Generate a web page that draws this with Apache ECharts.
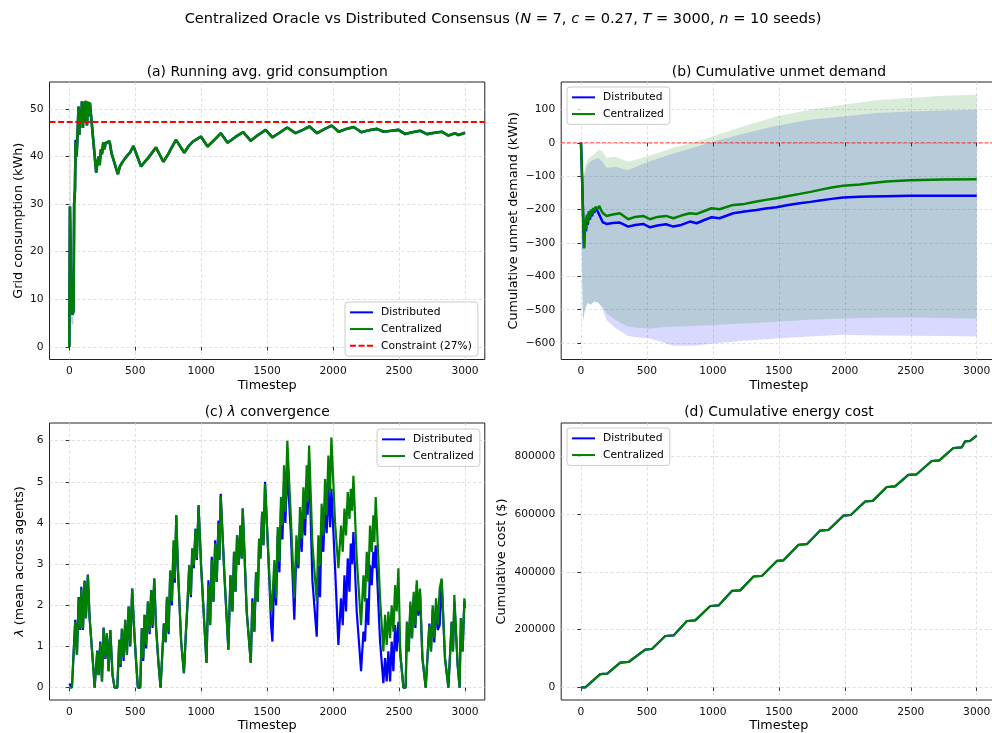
<!DOCTYPE html>
<html><head><meta charset="utf-8">
<script src="https://cdn.jsdelivr.net/npm/echarts@6/dist/echarts.min.js"></script>
<style>html,body{margin:0;padding:0;background:#fff}#c{width:992px;height:733px}</style>
</head><body><div id="c"></div>
<script>
// ---------- tick values ----------
const xTicks = [0, 500, 1000, 1500, 2000, 2500, 3000];
const aYTicks = [0, 10, 20, 30, 40, 50];
const bYTicks = [-600, -500, -400, -300, -200, -100, 0, 100];
const cYTicks = [0, 1, 2, 3, 4, 5, 6];
const dYTicks = [0, 200000, 400000, 600000, 800000];

// ---------- (a) running avg grid consumption ----------
const aT = [0,5,10,15,25,32,37,43,48,55,62,70,76,82,90,96,103,110,118,126,134,142,150,156,204,212,224,230,240,248,258,266,275,290,305,320,368,385,405,420,443,460,486,544,570,595,620,657,713,746,775,809,872,900,935,970,998,1048,1100,1149,1200,1260,1318,1376,1430,1489,1539,1600,1652,1715,1770,1821,1879,1930,1988,2043,2100,2156,2214,2270,2333,2383,2440,2496,2547,2600,2660,2711,2770,2824,2874,2924,2950,3000];
const aCent = [0,29.5,20,8,6.8,7.5,30,33,43,40,44,50.5,44.5,50,47,51.5,46,51.5,47.5,51.7,46.5,51.5,48.5,51.3,36.6,38.5,40,38.2,41.5,40.5,43,41.5,42.8,42.4,43.2,40.7,36.3,38,38.9,39.5,40.3,40.8,42.2,37.9,38.8,39.6,40.5,41.9,38.9,40.3,41.8,43.5,40.8,42,43.1,43.7,44.2,42.1,43.5,44.9,42.9,44.1,45.1,43.3,44.5,45.6,44.0,45.1,46.1,44.9,45.6,46.3,44.9,45.7,46.5,45.2,45.8,46.2,45.1,45.5,45.8,45.2,45.4,45.6,44.7,45.1,45.4,44.7,45.0,45.2,44.4,44.9,44.5,45.0];
const aDist = [0,29.5,20,8,6.8,7.5,30,33,43.5,40,44,50.5,44.5,50,47,51.6,46,51.5,47.5,51.7,46.5,51.5,48.5,51.3,36.6,38.5,40,38.2,41.5,40.5,43,41.5,42.8,42.4,43.2,40.7,36.3,38,38.9,39.5,40.3,40.8,42.2,37.9,38.8,39.6,40.5,41.9,38.9,40.3,41.8,43.5,40.8,42,43.1,43.7,44.2,42.1,43.5,44.9,42.9,44.1,45.1,43.3,44.5,45.6,44.0,45.1,46.1,44.9,45.6,46.3,44.9,45.7,46.5,45.2,45.8,46.2,45.1,45.5,45.8,45.2,45.4,45.6,44.7,45.1,45.4,44.7,45.0,45.2,44.4,44.9,44.5,45.0];
const aBandT  = [0, 5, 10, 15, 25, 32, 37, 43, 48, 55, 62];
const aBandLo = [0, 6, 8, 5, 4.5, 5, 25, 30, 40, 38, 42];
const aBandHi = [0, 53, 30, 12, 9, 10, 35, 36, 46, 42, 46];
const constraintValue = 47.25;
const zeroValue = 0;

// ---------- (b) cumulative unmet demand ----------
const bLineT = [0,5,23,30,38,45,52,60,68,76, 84,92,100,110,125,139,150,165,194,240, 295,358,410,472,523,580,644,700,760,826, 877,930,990,1050,1154,1240,1331,1400,1482,1560, 1659,1740,1811,1900,1987,2114,2189,2316,2492,2744, 3000];
const bCent = [0,-60,-316,-230,-260,-215,-240,-205,-225,-200, -215,-195,-205,-192,-198,-189,-200,-210,-219,-215, -211,-229,-222,-219,-229,-222,-219,-226,-218,-211, -213,-205,-196,-199,-186,-183,-176,-171,-166,-160, -153,-147,-141,-134,-129,-125,-121,-116,-112,-110, -109];
const bDist = [0,-60,-316,-235,-265,-220,-245,-210,-230,-205, -220,-200,-210,-198,-204,-206,-225,-238,-243,-240, -239,-251,-246,-243,-253,-248,-244,-251,-246,-236, -241,-232,-223,-226,-211,-206,-201,-197,-193,-187, -181,-177,-173,-168,-164,-162,-161,-160,-159,-159, -159];
const bBandT  = [0,8,15,30,50,75,100,130,160,194, 260,358,440,523,600,700,851,1003,1230,1482, 1735,1987,2240,2492,2744,3000];
const bDistHi = [0,-200,-110,-90,-65,-55,-50,-45,-55,-75, -72,-82,-68,-55,-45,-32,-15,4,27,51, 69,79,89,94,97,99];
const bDistLo = [0,-400,-535,-500,-480,-485,-475,-478,-495,-531, -555,-579,-583,-586,-595,-608,-608,-601,-593,-586, -580,-575,-577,-578,-579,-580];
const bCentHi = [0,-200,-100,-70,-50,-40,-35,-22,-25,-45, -42,-57,-48,-38,-28,-15,0,20,49,79, 99,114,127,134,141,144];
const bCentLo = [0,-400,-535,-500,-480,-485,-475,-478,-490,-511, -530,-551,-555,-556,-553,-551,-549,-546,-541,-536, -530,-526,-524,-523,-525,-527];

// ---------- (c) lambda convergence ----------
const cT = [0,20,33,45,58,71,83,91,104,116,
  126,141,154,184,192,202,212,222,235,248,
  260,273,285,298,311,328,343,364,379,389,
  399,412,424,437,450,462,477,490,505,520,
  538,550,561,571,583,596,609,621,631,644,
  657,677,692,702,717,730,740,753,765,778,
  790,800,811,823,848,869,884,896,909,922,
  932,944,957,967,980,999,1017,1040,1055,1068,
  1080,1093,1106,1118,1131,1138,1148,1176,1206,1222,
  1237,1249,1260,1272,1285,1297,1308,1315,1345,1376,
  1388,1403,1416,1429,1439,1449,1462,1472,1484,1510,
  1530,1540,1555,1568,1580,1593,1605,1616,1628,1638,
  1653,1679,1706,1722,1737,1749,1762,1775,1787,1800,
  1807,1818,1843,1876,1888,1901,1913,1926,1939,1951,
  1964,1977,1987,2015,2040,2060,2073,2086,2098,2111,
  2124,2134,2144,2154,2179,2212,2230,2242,2255,2267,
  2280,2293,2305,2313,2323,2356,2381,2394,2406,2419,
  2432,2444,2457,2470,2482,2495,2510,2533,2550,2560,
  2573,2586,2598,2611,2624,2634,2646,2659,2677,2702,
  2717,2730,2742,2755,2767,2780,2793,2808,2823,2848,
  2874,2886,2899,2909,2919,2932,2944,2959,2969,2982,
  2995,3000];
const cCent = [0,0,0,1.6,0.8,2.17,1.44,2.41,1.44,2.57,
  1.69,2.73,1.69,0.4,0,0,0.88,0.31,1.08,0.15,
  1.44,0.72,1.32,0.4,1.4,0.31,0,0,1.16,0.56,
  1.43,0.72,1.65,0.8,1.97,1.04,2.41,1.52,0.72,0,
  0,1.44,0.72,1.77,1.04,2.09,1.36,2.37,1.52,2.65,
  1.52,0.56,0,0,1.56,1.12,2.21,1.36,2.85,2.09,
  3.58,2.65,4.19,2.98,1.12,0.35,1.36,2.09,2.98,2.25,
  3.38,2.98,3.86,3.14,4.43,2.98,1.93,0.6,2.5,1.52,
  3.1,2.09,3.5,2.57,4.0,3.1,4.65,2.73,0.92,2.73,
  1.85,3.3,2.33,3.7,2.98,3.94,3.14,4.35,1.85,0.6,
  2.1,1.36,2.81,2.09,3.62,3.14,4.27,3.46,4.95,3.14,
  1.85,2.2,3.1,2.17,3.9,3.06,4.63,3.94,5.4,4.27,
  6.0,4.19,2.17,3.7,2.98,4.39,3.62,4.87,4.1,5.4,
  4.51,5.88,3.5,2.1,3.7,2.98,4.47,3.7,5.07,4.19,
  5.64,4.75,6.08,4.0,2.9,3.94,3.3,4.35,3.7,4.75,
  4.1,4.83,4.3,5.15,3.14,1.52,2.73,2.09,3.3,2.57,
  3.94,3.3,4.19,3.54,4.63,2.17,0.88,1.77,1.04,1.85,
  1.2,2.0,1.36,2.49,1.85,2.9,0.8,0,0,1.6,
  0.88,2.09,1.2,2.33,1.52,2.61,1.85,2.41,0.72,0,
  0,1.52,0.88,2.0,1.2,2.17,1.52,2.41,2.65,0.72,
  0,0,1.6,0.88,2.25,1.36,0.56,0,1.69,0.88,
  2.17,1.93];
const cDist = [0.1,0,0,1.65,0.8,2.2,1.4,2.45,1.4,2.6,
  1.69,2.75,1.7,0.4,0,0,0.9,0.3,1.12,0.15,
  1.46,0.7,1.32,0.4,1.4,0.3,0,0,1.16,0.5,
  1.43,0.65,1.65,0.8,1.97,1.0,2.41,1.5,0.7,0,
  0,1.44,0.65,1.77,0.95,2.09,1.3,2.37,1.45,2.65,
  1.5,0.56,0,0,1.56,1.1,2.15,1.3,2.75,2.0,
  3.4,2.55,4.19,2.9,1.12,0.35,1.3,2.0,2.9,2.2,
  3.38,2.9,3.86,3.1,4.43,2.98,1.93,0.6,2.61,1.52,
  3.18,2.09,3.58,2.57,4.06,3.1,4.71,2.73,0.92,2.73,
  1.85,3.3,2.33,3.7,2.98,3.94,3.14,4.35,1.85,0.6,
  2.17,1.36,2.81,2.09,3.62,3.14,4.27,3.46,5.0,3.14,
  1.5,1.12,2.9,2.0,3.7,2.8,4.4,3.6,5.0,4.0,
  5.3,3.8,1.65,3.4,2.9,4.0,3.3,4.4,3.7,4.9,
  4.2,5.5,2.6,1.24,2.98,2.2,4.02,3.3,4.51,3.75,
  4.91,3.9,4.83,2.9,1.04,2.17,1.52,2.73,1.85,3.14,
  2.33,3.5,3.0,3.78,1.85,0.4,1.36,1.12,2.17,1.52,
  2.98,2.49,3.3,2.9,3.46,1.12,0.11,0.72,0.15,0.88,
  0.15,1.12,0.4,1.52,0.88,1.6,0.8,0,0,1.6,
  0.88,2.0,1.2,2.2,1.45,2.5,1.75,2.3,0.72,0,
  0,1.56,0.88,1.9,1.1,2.0,1.4,1.52,2.6,0.72,
  0,0,1.6,0.88,2.1,1.3,0.56,0,1.69,0.88,
  2.1,2.0];

// ---------- (d) cumulative energy cost ----------
const dT = [0,33,146,199,298,361,487,538,639,702, 803,866,980,1043,1144,1207,1308,1371,1485,1535, 1650,1712,1813,1876,1990,2045,2154,2212,2318,2381, 2482,2545,2659,2717,2823,2886,2912,2950,3000];
const dCent = [0,0,46000,48000,86000,88000,131000,133000,178000,180000, 230000,232000,282000,284000,334000,336000,384000,386000,438000,440000, 494000,496000,543000,545000,595000,597000,644000,646000,694000,696000, 736000,738000,784000,786000,829000,831000,852000,854000,872000];
const dDist = [0,0,46000,48000,86000,88000,131000,133000,178000,180000, 230000,232000,282000,284000,334000,336000,384000,386000,438000,440000, 494000,496000,543000,545000,595000,597000,644000,646000,694000,696000, 736000,738000,784000,786000,829000,831000,852000,854000,872000];

// ---------- build ----------
const FF = "'DejaVu Sans', sans-serif";
const BLUE = '#0000ff', GREEN = '#008000';
const X_MIN = -150, X_MAX = 3150;
const zip = (xs, ys) => xs.map((x, i) => [x, ys[i]]);
const minus = v => String(v).replace('-', '\u2212');

const grids = [
  {left: 49.5, top: 82, width: 435.3, height: 277.5},
  {left: 561.2, top: 82, width: 435.3, height: 277.5},
  {left: 49.5, top: 423, width: 435.3, height: 277},
  {left: 561.2, top: 423, width: 435.3, height: 277}
].map(g => Object.assign(g, {show: true, borderColor: '#222', borderWidth: 1, backgroundColor: 'transparent', outerBoundsMode: 'none', containLabel: false}));

const split = {show: true, lineStyle: {color: '#d6d6d6', type: [3, 2.5], width: 0.8}};
function xAx(gi) {
  return {type: 'value', gridIndex: gi, min: X_MIN, max: X_MAX,
    axisLine: {show: false},
    axisTick: {show: true, length: 3.7, inside: false, lineStyle: {color: '#222', width: 0.9}, customValues: xTicks},
    axisLabel: {show: true, customValues: xTicks, fontSize: 10.7, color: '#111', margin: 6.5, fontFamily: FF, formatter: v => String(v)},
    splitLine: split,
    name: 'Timestep', nameLocation: 'middle', nameGap: 19.5,
    nameTextStyle: {fontSize: 12.8, color: '#000', fontFamily: FF}};
}
function yAx(gi, min, max, ticks, name, gap, rich) {
  const ax = {type: 'value', gridIndex: gi, min: min, max: max,
    axisLine: {show: false},
    axisTick: {show: true, length: 3.7, inside: false, lineStyle: {color: '#222', width: 0.9}, customValues: ticks},
    axisLabel: {show: true, customValues: ticks, fontSize: 10.7, color: '#111', margin: 6, fontFamily: FF, formatter: minus},
    splitLine: split,
    name: name, nameLocation: 'middle', nameGap: gap, nameRotate: 90,
    nameTextStyle: {fontSize: 12.8, color: '#000', fontFamily: FF}};
  if (rich) ax.nameTextStyle.rich = rich;
  return ax;
}

const lineS = (name, gi, xs, ys, color, z, w) => ({
  name: name, type: 'line', xAxisIndex: gi, yAxisIndex: gi, data: zip(xs, ys),
  symbol: 'none', showSymbol: false, lineStyle: {color: color, width: w || 2.2}, itemStyle: {color: color},
  z: z, animation: false, silent: true, clip: true
});
// shaded band (mean +/- std) drawn as one polygon through the axis scales
function band(gi, xs, lo, hi, color, z) {
  return {type: 'custom', coordinateSystem: 'cartesian2d', xAxisIndex: gi, yAxisIndex: gi,
    data: xs.map((x, i) => [x, lo[i], hi[i]]), encode: {x: 0, y: [1, 2]},
    clip: true, silent: true, z: z, animation: false,
    renderItem: function (params, api) {
      if (params.dataIndex !== 0) return null;
      const pts = [];
      for (let i = 0; i < xs.length; i++) pts.push(api.coord([xs[i], hi[i]]));
      for (let i = xs.length - 1; i >= 0; i--) pts.push(api.coord([xs[i], lo[i]]));
      return {type: 'polygon', shape: {points: pts}, style: {fill: color, stroke: null}};
    }};
}
const refLine = (name, gi, value, color, width, dash, z) => ({
  name: name, type: 'line', xAxisIndex: gi, yAxisIndex: gi,
  data: [[X_MIN, value], [X_MAX, value]], symbol: 'none',
  lineStyle: {color: color, width: width, type: dash}, itemStyle: {color: color}, z: z, animation: false, silent: true
});

const series = [
  band(0, aBandT, aBandLo, aBandHi, 'rgba(150,175,200,0.6)', 1),
  lineS('Distributed', 0, aT, aDist, BLUE, 3, 2.6),
  lineS('Centralized', 0, aT, aCent, GREEN, 4, 2.6),
  refLine('Constraint (27%)', 0, constraintValue, '#ff0000', 2, [6, 2.6], 5),
  band(1, bBandT, bDistLo, bDistHi, 'rgba(0,0,255,0.15)', 1),
  band(1, bBandT, bCentLo, bCentHi, 'rgba(0,128,0,0.15)', 1),
  refLine('zero', 1, zeroValue, 'rgba(255,0,0,0.7)', 1, [4, 1.8], 2),
  lineS('Distributed', 1, bLineT, bDist, BLUE, 3, 2.5),
  lineS('Centralized', 1, bLineT, bCent, GREEN, 4, 2.5),
  lineS('Distributed', 2, cT, cDist, BLUE, 3),
  lineS('Centralized', 2, cT, cCent, GREEN, 4),
  lineS('Distributed', 3, dT, dDist, BLUE, 3),
  lineS('Centralized', 3, dT, dCent, GREEN, 4)
];

const legBase = {orient: 'vertical', itemWidth: 23, itemHeight: 2, itemGap: 4, icon: 'rect',
  padding: [4, 6, 4, 5], backgroundColor: 'rgba(255,255,255,0.8)', borderColor: '#cccccc', borderWidth: 1, borderRadius: 3,
  textStyle: {fontSize: 10.7, lineHeight: 12.7, color: '#000', fontFamily: FF, padding: [0, 0, 0, 3]}, selectedMode: false, z: 10};
const dashIcon = 'path://M0,0h6v2h-6zM8.5,0h6v2h-6zM17,0h6v2h-6z';
const legends = [
  Object.assign({}, legBase, {left: 345, top: 302, data: ['Distributed', 'Centralized', {name: 'Constraint (27%)', icon: dashIcon}]}),
  Object.assign({}, legBase, {left: 567, top: 87, data: ['Distributed', 'Centralized']}),
  Object.assign({}, legBase, {left: 377, top: 429, data: ['Distributed', 'Centralized']}),
  Object.assign({}, legBase, {left: 567, top: 428, data: ['Distributed', 'Centralized']})
];

const tStyle = {fontSize: 13.9, fill: '#000', fontFamily: FF, align: 'center', verticalAlign: 'middle'};
const graphics = [
  {type: 'text', x: 503, y: 19, style: Object.assign({}, tStyle, {fontSize: 14.6,
    text: '{n|Centralized Oracle vs Distributed Consensus (}{i|N}{n| = 7, }{i|c}{n| = 0.27, }{i|T}{n| = 3000, }{i|n}{n| = 10 seeds)}',
    rich: {n: {fontSize: 14.6, fontFamily: FF, fill: '#000'}, i: {fontStyle: 'italic', fontSize: 14.6, fontFamily: FF, fill: '#000'}}})},
  {type: 'text', x: 267.2, y: 72, style: Object.assign({}, tStyle, {text: '(a) Running avg. grid consumption'})},
  {type: 'text', x: 778.9, y: 72, style: Object.assign({}, tStyle, {text: '(b) Cumulative unmet demand'})},
  {type: 'text', x: 267.2, y: 412, style: Object.assign({}, tStyle, {text: '{n|(c) }{i|λ}{n| convergence}',
    rich: {n: {fontSize: 13.9, fontFamily: FF, fill: '#000'}, i: {fontSize: 13.9, fontFamily: FF, fontStyle: 'italic', fill: '#000'}}})},
  {type: 'text', x: 778.9, y: 412, style: Object.assign({}, tStyle, {text: '(d) Cumulative energy cost'})}
];

const option = {
  animation: false,
  backgroundColor: '#fff',
  grid: grids,
  xAxis: [xAx(0), xAx(1), xAx(2), xAx(3)],
  yAxis: [
    yAx(0, -2.65, 55.65, aYTicks, 'Grid consumption (kWh)', 24),
    yAx(1, -649, 182, bYTicks, 'Cumulative unmet demand (kWh)', 41.5),
    yAx(2, -0.30, 6.43, cYTicks, '{i|λ} (mean across agents)', 23,
        {i: {fontStyle: 'italic', fontSize: 12.8, fontFamily: FF, color: '#000'}}),
    yAx(3, -43600, 915600, dYTicks, 'Cumulative cost ($)', 53)
  ],
  legend: legends,
  series: series,
  graphic: graphics
};
const chart = echarts.init(document.getElementById('c'), null, {renderer: 'canvas'});
chart.setOption(option);
</script></body></html>
